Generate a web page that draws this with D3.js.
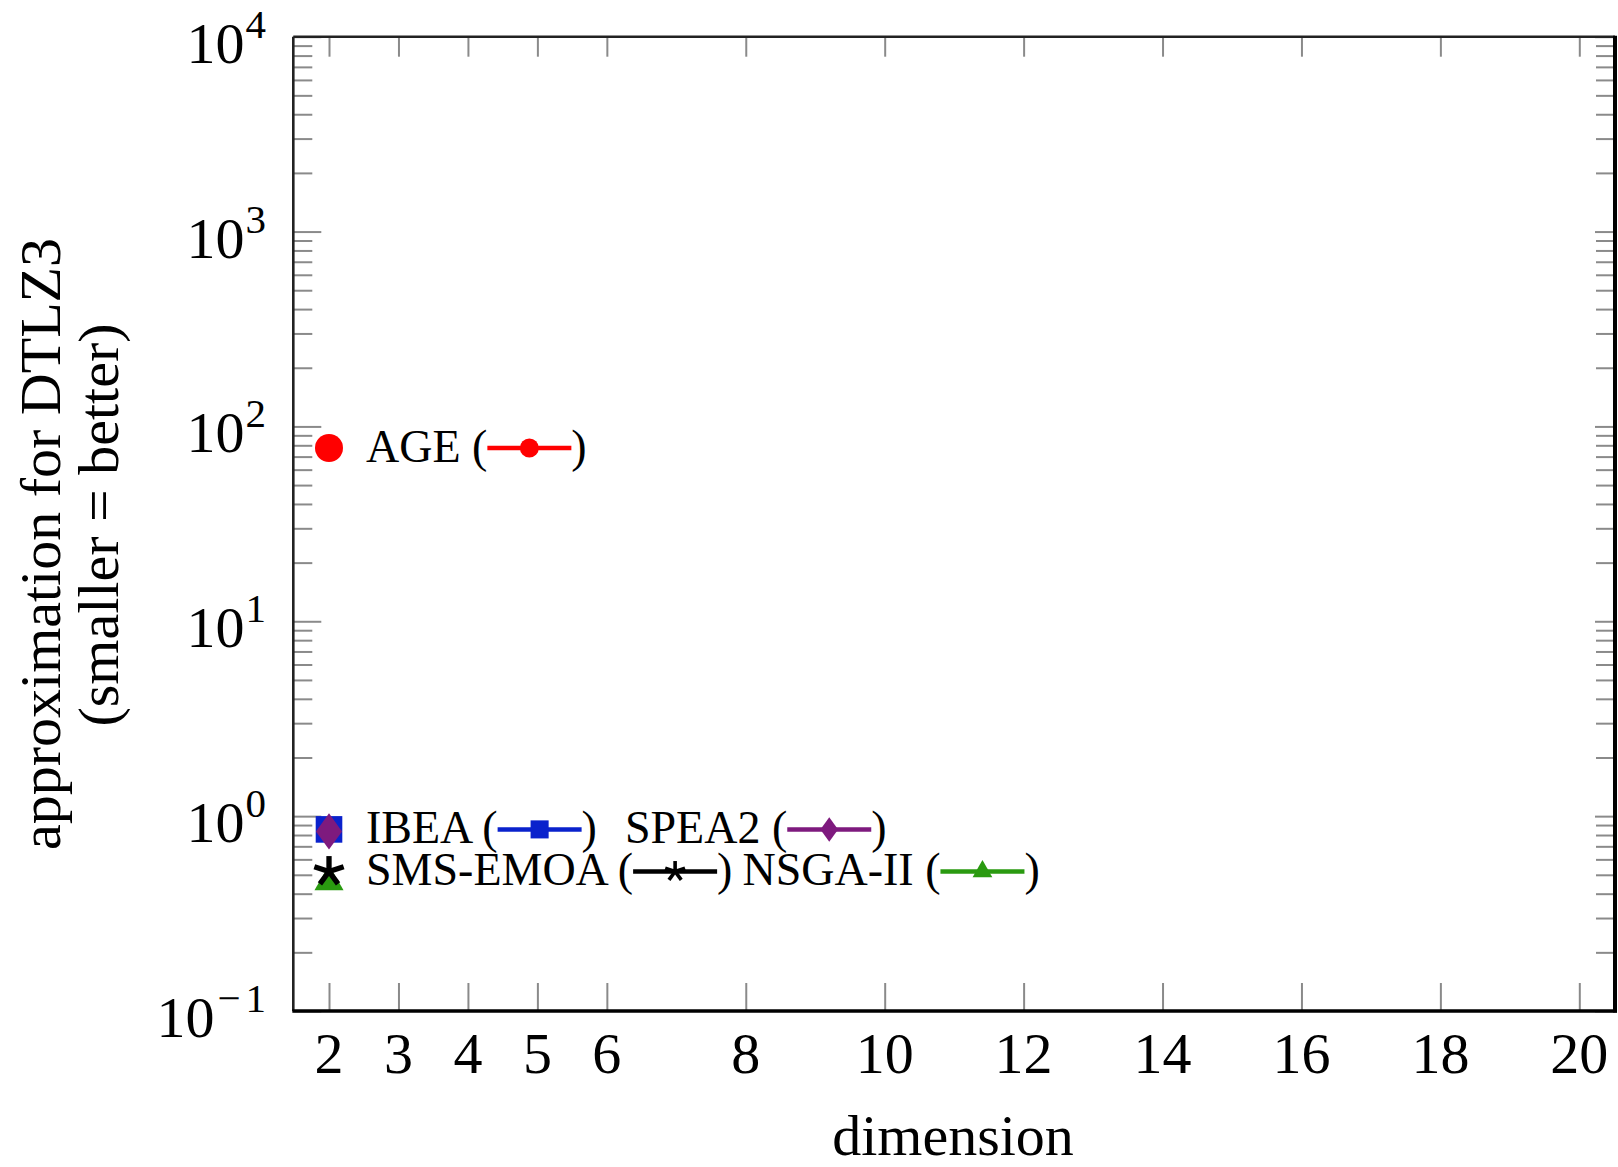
<!DOCTYPE html>
<html>
<head>
<meta charset="utf-8">
<script src="https://cdn.jsdelivr.net/npm/d3@7"></script>
<style>
  html, body { margin: 0; padding: 0; background: #fff; }
  svg { display: block; }
  text { font-family: "Liberation Serif", "Times New Roman", serif; fill: #000; }
</style>
</head>
<body>
<svg id="chart" width="1618" height="1167"></svg>
<script>
// ---- data -------------------------------------------------------------
const dimensions     = [2];
const ageValues      = [77.5];
const ibeaValues     = [0.855];
const spea2Values    = [0.835];
const smsEmoaValues  = [0.52];
const nsga2Values    = [0.46];

const seriesNames    = ["AGE", "IBEA", "SPEA2", "SMS-EMOA", "NSGA-II"];
const xTickValues    = [2, 3, 4, 5, 6, 8, 10, 12, 14, 16, 18, 20];
const yTickExponents = [-1, 0, 1, 2, 3, 4];
const xDomain        = [1.486, 20.514];
const yDomain        = [1e-1, 1e4];
const xTitle         = "dimension";
const yTitleLines    = ["approximation for DTLZ3", "(smaller = better)"];
// labels written next to the points; each group is anchored on its first series
const labelGroups    = [["AGE"], ["IBEA", "SPEA2"], ["SMS-EMOA", "NSGA-II"]];

// ---- styling ----------------------------------------------------------
const seriesStyle = {
  "AGE":      { color: "#ff0000", mark: "circle" },
  "IBEA":     { color: "#0a22cc", mark: "square" },
  "SPEA2":    { color: "#7e1a7e", mark: "diamond" },
  "SMS-EMOA": { color: "#000000", mark: "star" },
  "NSGA-II":  { color: "#2a9a10", mark: "triangle" }
};
const seriesValues = {
  "AGE": ageValues, "IBEA": ibeaValues, "SPEA2": spea2Values,
  "SMS-EMOA": smsEmoaValues, "NSGA-II": nsga2Values
};
const drawOrder = ["AGE", "IBEA", "SPEA2", "NSGA-II", "SMS-EMOA"];

const box = { left: 293.3, right: 1615, top: 36.7, bottom: 1011 };
const svg = d3.select("#chart");

const x = d3.scaleLinear().domain(xDomain).range([box.left, box.right]);
const y = d3.scaleLog().domain(yDomain).range([box.bottom, box.top]);

// ---- ticks ------------------------------------------------------------
const minorY = [];
yTickExponents.slice(0, -1).forEach(e => {
  for (let m = 2; m <= 9; m++) minorY.push(m * Math.pow(10, e));
});
const majorY = yTickExponents.map(e => Math.pow(10, e));
const tickColor = "#8a8a8a";

const yAxisLeft = d3.axisRight(y).tickValues(majorY).tickSize(28).tickFormat("");
const yAxisLeftMinor = d3.axisRight(y).tickValues(minorY).tickSize(19).tickFormat("");
const yAxisRight = d3.axisLeft(y).tickValues(majorY).tickSize(20).tickFormat("");
const yAxisRightMinor = d3.axisLeft(y).tickValues(minorY).tickSize(19).tickFormat("");
const xAxisBottom = d3.axisTop(x).tickValues(xTickValues).tickSize(28).tickFormat("");
const xAxisTop = d3.axisBottom(x).tickValues(xTickValues).tickSize(20).tickFormat("");

function tickGroup(axis, tx, ty) {
  const g = svg.append("g").attr("transform", `translate(${tx},${ty})`).call(axis);
  g.select(".domain").remove();
  g.selectAll(".tick line").attr("stroke", tickColor).attr("stroke-width", 2);
  return g;
}
tickGroup(yAxisLeft, box.left, 0);
tickGroup(yAxisLeftMinor, box.left, 0);
tickGroup(yAxisRight, box.right, 0);
tickGroup(yAxisRightMinor, box.right, 0);
tickGroup(xAxisBottom, 0, box.bottom);
tickGroup(xAxisTop, 0, box.top);

// frame
svg.append("line").attr("x1", box.left).attr("x2", box.right).attr("y1", box.top).attr("y2", box.top)
  .attr("stroke", "#222").attr("stroke-width", 2.4);
svg.append("line").attr("x1", box.left).attr("x2", box.left).attr("y1", box.top).attr("y2", box.bottom)
  .attr("stroke", "#222").attr("stroke-width", 2.6);
svg.append("line").attr("x1", box.left - 1).attr("x2", box.right + 2).attr("y1", box.bottom).attr("y2", box.bottom)
  .attr("stroke", "#000").attr("stroke-width", 3.4);
svg.append("line").attr("x1", box.right).attr("x2", box.right).attr("y1", box.top - 1).attr("y2", box.bottom + 1.5)
  .attr("stroke", "#000").attr("stroke-width", 4);

// tick labels
svg.append("g").selectAll("text").data(xTickValues).join("text")
  .attr("x", d => x(d)).attr("y", box.bottom + 62)
  .attr("text-anchor", "middle").attr("font-size", 58)
  .text(d => d);

const yLabels = svg.append("g").selectAll("text").data(yTickExponents).join("text")
  .attr("x", 266).attr("y", e => y(Math.pow(10, e)) + 26)
  .attr("text-anchor", "end").attr("font-size", 58);
yLabels.append("tspan").text("10");
const sup = yLabels.append("tspan").attr("font-size", 41).attr("dy", -25);
sup.filter(e => e < 0).append("tspan").attr("dx", 3).text("\u2212");
sup.append("tspan").attr("dx", e => (e < 0 ? 5 : 1)).text(e => String(Math.abs(e)));

// axis titles
svg.append("text").attr("x", 953).attr("y", 1155).attr("text-anchor", "middle")
  .attr("font-size", 58).text(xTitle);
svg.append("text").attr("transform", "translate(60,544) rotate(-90)").attr("text-anchor", "middle")
  .attr("font-size", 58).text(yTitleLines[0]);
svg.append("text").attr("transform", "translate(118,525) rotate(-90)").attr("text-anchor", "middle")
  .attr("font-size", 58).text(yTitleLines[1]);

// ---- marks ------------------------------------------------------------
function drawMark(g, kind, color, r) {
  if (kind === "circle") {
    g.append("circle").attr("r", r).attr("fill", color);
  } else if (kind === "square") {
    const h = r * 0.95;
    g.append("rect").attr("x", -h).attr("y", -h).attr("width", 2 * h).attr("height", 2 * h).attr("fill", color);
  } else if (kind === "diamond") {
    const w = r * 0.93, hh = r * 1.29;
    g.append("path").attr("d", `M0,${-hh}L${w},0L0,${hh}L${-w},0Z`).attr("fill", color);
  } else if (kind === "triangle") {
    const R = r * 1.2;
    const pts = [-90, 30, 150].map(a => [R * Math.cos(a * Math.PI / 180), R * Math.sin(a * Math.PI / 180)]);
    g.append("path").attr("d", "M" + pts.map(p => p.join(",")).join("L") + "Z").attr("fill", color);
  } else if (kind === "star") {
    const R = r * 1.1;
    d3.range(5).forEach(i => {
      const a = (-90 + i * 72) * Math.PI / 180;
      g.append("line").attr("x1", 0).attr("y1", 0)
        .attr("x2", R * Math.cos(a)).attr("y2", R * Math.sin(a))
        .attr("stroke", color).attr("stroke-width", r * 0.38).attr("stroke-linecap", "butt");
    });
  }
}

const plot = svg.append("g");
drawOrder.forEach(name => {
  const st = seriesStyle[name];
  const pts = dimensions.map((d, i) => [d, seriesValues[name][i]]);
  plot.append("path").datum(pts)
    .attr("d", d3.line().x(p => x(p[0])).y(p => y(p[1])))
    .attr("fill", "none").attr("stroke", st.color).attr("stroke-width", 4);
  pts.forEach(p => {
    const g = plot.append("g").attr("transform", `translate(${x(p[0])},${y(p[1])})`);
    drawMark(g, st.mark, st.color, 14);
  });
});

// ---- labels beside the points ------------------------------------------
const groupGaps = [0, 28, 10];
labelGroups.forEach((group, gi) => {
  const anchor = group[0];
  const px = x(dimensions[0]) + 37;
  const base = y(seriesValues[anchor][0]) + 14;
  let cx = px;
  const g = svg.append("g");
  group.forEach((name, k) => {
    const st = seriesStyle[name];
    const t1 = g.append("text").attr("x", cx).attr("y", base).attr("font-size", 46).text(name + " (");
    cx += t1.node().getComputedTextLength();
    const midY = base - 14;
    g.append("line").attr("x1", cx).attr("x2", cx + 84).attr("y1", midY).attr("y2", midY)
      .attr("stroke", st.color).attr("stroke-width", 4.5);
    const mg = g.append("g").attr("transform", `translate(${cx + 42},${midY})`);
    drawMark(mg, st.mark, st.color, 9.5);
    cx += 84;
    const t2 = g.append("text").attr("x", cx).attr("y", base).attr("font-size", 46).text(")");
    cx += t2.node().getComputedTextLength();
    if (k < group.length - 1) cx += groupGaps[gi];
  });
});
</script>
</body>
</html>
